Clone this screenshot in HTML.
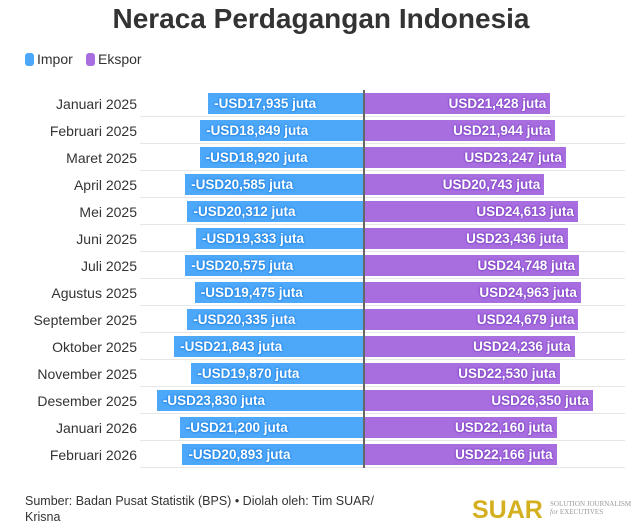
<!DOCTYPE html>
<html><head><meta charset="utf-8"><style>
body{margin:0;width:642px;height:529px;background:#fff;font-family:"Liberation Sans",sans-serif;position:relative;overflow:hidden}
.t{position:absolute;top:3px;left:0;width:642px;text-align:center;font-size:28px;font-weight:bold;color:#333}
.lg{position:absolute;top:51px;font-size:14px;color:#333}
.sw{display:inline-block;width:9px;height:13px;border-radius:3px;vertical-align:-2px;margin-right:3px}
.lab{position:absolute;left:0;width:137px;text-align:right;font-size:14px;color:#333}
.g{position:absolute;left:140px;width:485px;height:1px;background:#e6e6e6}
.b{position:absolute;height:21px;font-size:13.5px;font-weight:bold;color:#fff;line-height:21px;white-space:nowrap}
.l{background:#4da8fa;text-shadow:0 0 2px #1a7fe0,0 0 2px #1a7fe0}
.r{background:#a86ee0;text-align:right;text-shadow:0 0 2px #7b3fc0,0 0 2px #7b3fc0}
.c{position:absolute;left:363px;top:90px;width:1.5px;height:378px;background:#666}
.src{position:absolute;left:25px;top:493px;font-size:12.5px;color:#333;line-height:16px;width:420px}
.su{position:absolute;left:472px;top:496px;font-size:25px;font-weight:bold;color:#d4b020}
.sm{position:absolute;left:550px;top:500px;font-size:7px;color:#999;font-family:"Liberation Serif",serif;line-height:8px}
</style></head><body>
<div class="t">Neraca Perdagangan Indonesia</div>
<div class="lg" style="left:25px"><span class="sw" style="background:#4da8fa"></span>Impor</div>
<div class="lg" style="left:86px"><span class="sw" style="background:#a86ee0"></span>Ekspor</div>
<div id="rows"></div>
<div class="c"></div>
<div class="src">Sumber: Badan Pusat Statistik (BPS) • Diolah oleh: Tim SUAR/<br>Krisna</div>
<div class="su">SUAR</div>
<div class="sm">SOLUTION JOURNALISM<br><i>for</i> EXECUTIVES</div>
<script>
var d=[["Januari 2025","17,935","21,428"],["Februari 2025","18,849","21,944"],["Maret 2025","18,920","23,247"],["April 2025","20,585","20,743"],["Mei 2025","20,312","24,613"],["Juni 2025","19,333","23,436"],["Juli 2025","20,575","24,748"],["Agustus 2025","19,475","24,963"],["September 2025","20,335","24,679"],["Oktober 2025","21,843","24,236"],["November 2025","19,870","22,530"],["Desember 2025","23,830","26,350"],["Januari 2026","21,200","22,160"],["Februari 2026","20,893","22,166"]];
var h="",k=0.00869,c=364;
d.forEach(function(r,i){var y=93+i*27;var a=+r[1].replace(",",""),b=+r[2].replace(",","");
var wl=a*k,wr=b*k;
h+='<div class="lab" style="top:'+(y+3)+'px">'+r[0]+'</div>';
h+='<div class="g" style="top:'+(y+23)+'px"></div>';
h+='<div class="b l" style="top:'+y+'px;left:'+(c-wl)+'px;width:'+(wl-6)+'px;padding-left:6px">-USD'+r[1]+' juta</div>';
h+='<div class="b r" style="top:'+y+'px;left:'+c+'px;width:'+(wr-4)+'px;padding-right:4px">USD'+r[2]+' juta</div>';});
document.getElementById("rows").innerHTML=h;
</script>
</body></html>
